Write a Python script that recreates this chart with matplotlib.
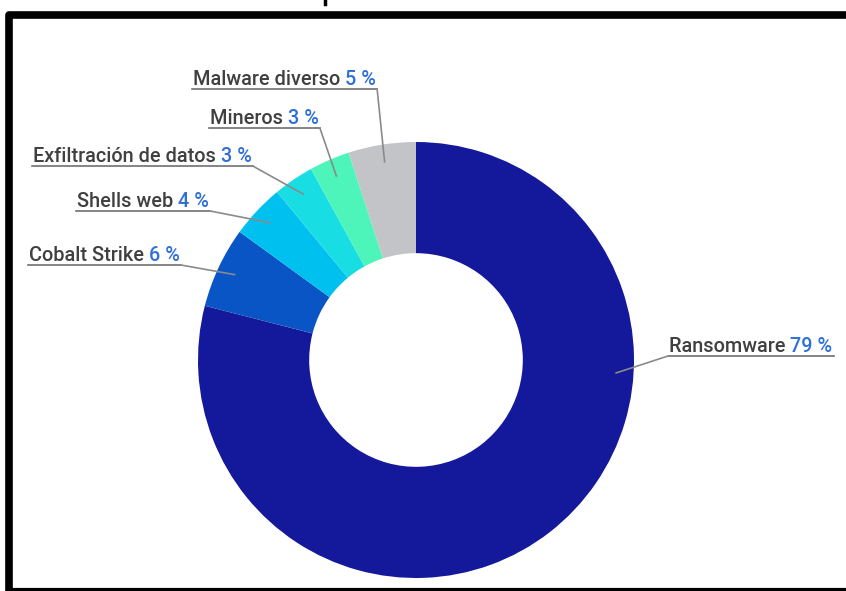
import numpy as np
import matplotlib.pyplot as plt

W, H = 846, 591

categorias = ["Ransomware", "Cobalt Strike", "Shells web", "Exfiltración de datos", "Mineros", "Malware diverso"]
valores = [79, 6, 4, 3, 3, 5]
colores = ["#14189a", "#0a55c5", "#00c0f0", "#18dee4", "#4ef5ba", "#c2c4c8"]

# posicion de cada etiqueta en pixeles (x izquierda, y del subrayado) y lado
etiquetas_pos = [(668, 356, "left"), (28, 265, "right"), (76, 211, "right"),
                 (32, 166, "right"), (209, 128, "right"), (192, 89, "right")]
# angulo del extremo de la linea guia (None = mitad del sector)
angulo_guia = [-3.7, None, None, None, None, None]

centro = (416, H - 360)
R = 218
ancho = 0.51

fig = plt.figure(figsize=(W / 100, H / 100), dpi=100)
ax = fig.add_axes([0, 0, 1, 1])
wedges, _ = ax.pie(valores, colors=colores, startangle=90, counterclock=False,
                   center=centro, radius=R, wedgeprops=dict(width=R * ancho, linewidth=0))
ax.set_xlim(0, W)
ax.set_ylim(0, H)
ax.set_aspect("auto")
ax.axis("off")

# marco negro
ax.plot([8.5, 8.5, W + 5], [0, H - 14.5, H - 14.5], color="black", lw=5.5, solid_capstyle="butt")
ax.plot([6, W + 5], [1.5, 1.5], color="black", lw=3, solid_capstyle="butt")
ax.plot([325, 325], [H, H - 4], color="black", lw=2.5)

fuente = "Roboto"
fs = 14.3
gris = "#404040"
azul = "#2f6fd8"
linea = "#8a8a8a"

fig.canvas.draw()
r = fig.canvas.get_renderer()
for w, nombre, v, (lx, ly, lado), ang in zip(wedges, categorias, valores, etiquetas_pos, angulo_guia):
    y = H - ly + 4
    t1 = ax.text(lx + 1, y, nombre + " ", color=gris, fontsize=fs, family=fuente,
                 weight="medium", va="baseline")
    bb = t1.get_window_extent(r)
    t2 = ax.text(bb.x1, y, f"{v} %", color=azul, fontsize=fs, family=fuente,
                 weight="medium", va="baseline")
    bb2 = t2.get_window_extent(r)
    x_fin = bb2.x1 + 1
    ax.plot([lx, x_fin], [H - ly, H - ly], color="#707070", lw=1.2)
    if ang is None:
        ang = (w.theta1 + w.theta2) / 2
    rr = R * 0.92
    px = centro[0] + rr * np.cos(np.radians(ang))
    py = centro[1] + rr * np.sin(np.radians(ang))
    x0 = x_fin if lado == "right" else lx
    ax.plot([x0, px], [H - ly, py], color=linea, lw=1.2)

fig.savefig("out.png", dpi=100, facecolor="white")
